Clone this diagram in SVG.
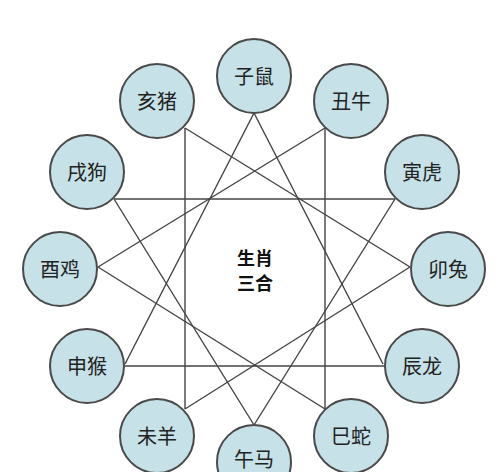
<svg xmlns="http://www.w3.org/2000/svg" width="500" height="472" viewBox="0 0 500 472">
<style>
.c{fill:#c6e1e7;stroke:#4a4a4a;stroke-width:2}
.t{font-family:"Noto Sans CJK SC","Noto Sans CJK JP",sans-serif;font-size:20px;fill:#222;text-anchor:middle;dominant-baseline:central}
.m{font-family:"Noto Sans CJK SC","Noto Sans CJK JP",sans-serif;font-size:18px;font-weight:bold;fill:#111;text-anchor:middle}
#lines line{stroke:#444;stroke-width:1.4}
</style>
<rect width="500" height="472" fill="#fff"/>
<g id="lines">
<line x1="254" y1="113" x2="125" y2="364"/>
<line x1="254" y1="113" x2="383" y2="364"/>
<line x1="124" y1="366" x2="385" y2="366"/>
<line x1="114" y1="199" x2="395" y2="199"/>
<line x1="114" y1="199" x2="254" y2="425"/>
<line x1="395" y1="199" x2="254" y2="425"/>
<line x1="185" y1="128" x2="185" y2="409"/>
<line x1="185" y1="128" x2="410" y2="267"/>
<line x1="185" y1="409" x2="410" y2="267"/>
<line x1="325" y1="128" x2="325" y2="409"/>
<line x1="325" y1="128" x2="98" y2="267"/>
<line x1="325" y1="409" x2="98" y2="267"/>
</g>
<g id="center"><text class="m" x="255" y="265">生肖</text><text class="m" x="255" y="290">三合</text></g>
<g id="zi"><circle class="c" cx="254" cy="76" r="37"/><text class="t" x="254" y="75">子鼠</text></g>
<g id="chou"><circle class="c" cx="351" cy="101" r="37"/><text class="t" x="351" y="100">丑牛</text></g>
<g id="yin"><circle class="c" cx="422" cy="172" r="37"/><text class="t" x="422" y="171">寅虎</text></g>
<g id="mao"><circle class="c" cx="448" cy="269" r="37"/><text class="t" x="448" y="268">卯兔</text></g>
<g id="chen"><circle class="c" cx="422" cy="366" r="37"/><text class="t" x="422" y="365">辰龙</text></g>
<g id="si"><circle class="c" cx="351" cy="436" r="37"/><text class="t" x="351" y="435">巳蛇</text></g>
<g id="wu"><circle class="c" cx="254" cy="462" r="37"/><text class="t" x="254" y="458">午马</text></g>
<g id="wei"><circle class="c" cx="157" cy="436" r="37"/><text class="t" x="157" y="435">未羊</text></g>
<g id="shen"><circle class="c" cx="87" cy="366" r="37"/><text class="t" x="87" y="365">申猴</text></g>
<g id="you"><circle class="c" cx="60" cy="269" r="37"/><text class="t" x="60" y="268">酉鸡</text></g>
<g id="xu"><circle class="c" cx="87" cy="172" r="37"/><text class="t" x="87" y="171">戌狗</text></g>
<g id="hai"><circle class="c" cx="157" cy="101" r="37"/><text class="t" x="157" y="100">亥猪</text></g>
</svg>
